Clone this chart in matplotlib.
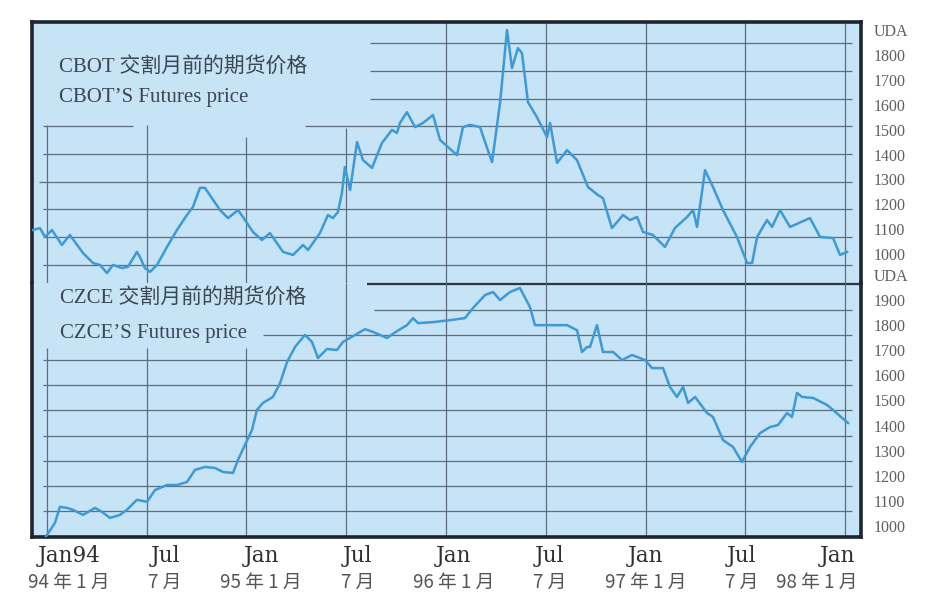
import matplotlib.pyplot as plt
from matplotlib.transforms import ScaledTranslation

# months counted from Jan 1994 (0 = Jan94, 48 = Jan98)
cbot_month = [-0.84, -0.42, -0.12, 0.30, 0.90, 1.38, 2.17, 2.77, 3.19, 3.61,
              3.97, 4.51, 4.87, 5.41, 5.59, 5.89, 6.20, 6.62, 7.22, 7.82,
              8.42, 8.78, 9.20, 9.50, 9.92, 10.41, 10.89, 11.49, 11.79, 12.39,
              12.93, 13.41, 13.83, 14.20, 14.80, 15.40, 15.70, 16.42, 16.90, 17.20,
              17.50, 17.74, 17.92, 18.23, 18.65, 19.01, 19.55, 20.15, 20.75, 21.05,
              21.23, 21.65, 22.14, 22.62, 23.22, 23.64, 24.12, 24.66, 25.02, 25.44,
              26.05, 26.35, 26.77, 27.25, 27.67, 27.97, 28.33, 28.57, 28.93, 29.47,
              30.08, 30.26, 30.68, 31.28, 31.88, 32.54, 33.14, 33.44, 33.98, 34.65,
              35.07, 35.49, 35.85, 36.45, 37.17, 37.77, 38.50, 38.86, 39.10, 39.58,
              40.06, 40.66, 41.50, 42.11, 42.41, 42.71, 43.31, 43.61, 44.09, 44.69,
              45.89, 46.50, 47.28, 47.70, 48.12]
cbot_price = [1126, 1133, 1101, 1126, 1072, 1108, 1043, 1007, 1000, 971,
              1000, 989, 993, 1047, 1029, 989, 975, 1000, 1065, 1126,
              1180, 1209, 1278, 1278, 1241, 1198, 1169, 1198, 1173, 1119,
              1090, 1115, 1079, 1047, 1036, 1072, 1054, 1115, 1180, 1169,
              1191, 1259, 1353, 1270, 1443, 1378, 1350, 1440, 1487, 1476,
              1512, 1551, 1497, 1512, 1541, 1451, 1425, 1396, 1497, 1505,
              1497, 1443, 1371, 1584, 1847, 1710, 1782, 1764, 1587, 1533,
              1461, 1512, 1368, 1414, 1378, 1281, 1252, 1241, 1133, 1180,
              1162, 1173, 1119, 1108, 1065, 1133, 1173, 1198, 1137, 1342,
              1281, 1198, 1101, 1007, 1007, 1101, 1162, 1137, 1198, 1137,
              1169, 1101, 1097, 1036, 1047]

czce_month = [-0.12, 0.48, 0.78, 1.20, 1.56, 2.17, 2.89, 3.31, 3.79, 4.39,
              4.81, 5.41, 6.02, 6.50, 7.22, 7.82, 8.42, 8.90, 9.50, 10.11,
              10.59, 11.19, 11.49, 11.91, 12.33, 12.63, 12.99, 13.59, 14.02, 14.44,
              14.92, 15.52, 15.94, 16.30, 16.84, 17.44, 17.80, 18.53, 19.13, 19.61,
              20.45, 21.05, 21.65, 22.02, 22.32, 23.22, 24.24, 25.14, 25.62, 26.35,
              26.83, 27.25, 27.85, 28.45, 29.05, 29.35, 30.08, 31.28, 31.88, 32.18,
              32.48, 32.66, 33.08, 33.44, 34.05, 34.59, 35.19, 35.97, 36.39, 37.05,
              37.47, 37.89, 38.26, 38.56, 38.98, 39.70, 40.06, 40.66, 41.26, 41.80,
              42.29, 42.89, 43.49, 43.97, 44.51, 44.81, 45.11, 45.41, 46.08, 46.92,
              47.28, 48.18]
czce_price = [952, 1012, 1076, 1072, 1064, 1044, 1072, 1056, 1032, 1044,
              1064, 1104, 1096, 1143, 1163, 1163, 1175, 1223, 1235, 1231,
              1215, 1211, 1263, 1323, 1382, 1462, 1490, 1514, 1569, 1653,
              1713, 1761, 1733, 1669, 1705, 1701, 1733, 1761, 1784, 1773,
              1749, 1776, 1800, 1828, 1808, 1812, 1820, 1828, 1868, 1920,
              1932, 1900, 1932, 1948, 1872, 1800, 1800, 1800, 1780, 1693,
              1713, 1713, 1800, 1693, 1693, 1661, 1681, 1661, 1629, 1629,
              1554, 1514, 1554, 1490, 1514, 1450, 1434, 1342, 1315, 1255,
              1315, 1370, 1394, 1402, 1450, 1434, 1530, 1514, 1510, 1482,
              1462, 1410]

tick_months = [0, 6, 12, 18, 24, 30, 36, 42, 48]
tick_en = ['Jan94', 'Jul', 'Jan', 'Jul', 'Jan', 'Jul', 'Jan', 'Jul', 'Jan']
tick_cn = ['94 年 1 月', '7 月', '95 年 1 月', '7 月', '96 年 1 月', '7 月',
           '97 年 1 月', '7 月', '98 年 1 月']

cbot_ticks = [1000, 1100, 1200, 1300, 1400, 1500, 1600, 1700, 1800]
czce_ticks = [1000, 1100, 1200, 1300, 1400, 1500, 1600, 1700, 1800, 1900]

# grid lines leave the title corner of each panel empty
top_grid = [1000, 1100, 1200, 1300, 1400, 1500, 1600, 1700, 1800]
top_grid_from = [-0.25, -0.25, -0.25, -0.5, -0.25, 15.5, 19.4, 19.4, 19.4]
top_vgrid_top = [1505, 1505, 1461, 1494, None, None, None, None, None]
bot_grid = [1060, 1160, 1260, 1360, 1460, 1560, 1660, 1760, 1860]
bot_grid_from = [-0.25, -0.25, -0.25, -0.25, -0.25, -0.25, -0.25, 13.0, 19.7]
bot_vgrid_top = [1709, 1709, 1709, None, None, None, None, None, None]

bg = '#c7e3f6'
line_c = '#3d9ad6'
grid_c = '#5d6f7e'
frame_c = '#1c2530'
txt_c = '#3a4650'

plt.rcParams['font.family'] = ['Liberation Serif', 'Noto Sans CJK SC']

fig = plt.figure(figsize=(9.27, 6.03), dpi=100)
ax_top = fig.add_axes([0.0345, 0.5307, 0.8943, 0.4328])
ax_bot = fig.add_axes([0.0345, 0.1095, 0.8943, 0.4212])
ax_top.set_ylim(935, 1876)
ax_bot.set_ylim(956, 1968)

for ax in (ax_top, ax_bot):
    ax.set_facecolor(bg)
    ax.set_xlim(-0.9, 48.96)
    ax.set_xticks([])
    for s in ax.spines.values():
        s.set_color(frame_c)
        s.set_linewidth(2.6)
ax_top.spines['bottom'].set_visible(False)
ax_bot.spines['top'].set_visible(False)
ax_top.set_yticks([])

# grid
for y, x0 in zip(top_grid, top_grid_from):
    ax_top.hlines(y, x0, 48.4, colors=grid_c, lw=0.9, zorder=1)
ax_top.hlines(1500, -0.25, 5.2, colors=grid_c, lw=0.9, zorder=1)
for m, y1 in zip(tick_months, top_vgrid_top):
    ax_top.vlines(m, 935, y1 if y1 else 1876, colors=grid_c, lw=0.9, zorder=1)
for y, x0 in zip(bot_grid, bot_grid_from):
    ax_bot.hlines(y, x0, 48.4, colors=grid_c, lw=0.9, zorder=1)
ax_bot.hlines(1965, 19.25, 48.96, colors='#2b3540', lw=1.6, zorder=1, clip_on=False)
for m, y1 in zip(tick_months, bot_vgrid_top):
    ax_bot.vlines(m, 956, y1 if y1 else 1968, colors=grid_c, lw=0.9, zorder=1)

ax_top.plot(cbot_month, cbot_price, color=line_c, lw=1.8, zorder=3)
ax_bot.plot(czce_month, czce_price, color=line_c, lw=1.8, zorder=3)

# panel titles
ax_top.text(0.032, 0.828, 'CBOT 交割月前的期货价格', transform=ax_top.transAxes,
            fontsize=15, color=txt_c, va='center')
ax_top.text(0.032, 0.709, 'CBOT’S Futures price', transform=ax_top.transAxes,
            fontsize=15, color=txt_c, va='center')
ax_bot.text(0.034, 0.941, 'CZCE 交割月前的期货价格', transform=ax_bot.transAxes,
            fontsize=15, color=txt_c, va='center')
ax_bot.text(0.034, 0.803, 'CZCE’S Futures price', transform=ax_bot.transAxes,
            fontsize=15, color=txt_c, va='center')

# right hand price labels
ax_lab = ax_top.twinx()
ax_lab.set_ylim(883.4, 1932.7)
ax_lab.set_yticks(cbot_ticks + [1900], [str(t) for t in cbot_ticks] + ['UDA'])
ax_lab.tick_params(axis='y', length=0, pad=9, labelsize=11.5, labelcolor='#5e5e5e')
for s in ax_lab.spines.values():
    s.set_visible(False)

ax_bot.yaxis.tick_right()
ax_bot.set_yticks(czce_ticks, [str(t) for t in czce_ticks])
ax_bot.tick_params(axis='y', length=0, pad=9, labelsize=11.5, labelcolor='#5e5e5e')
ax_bot.text(1.0157, 1991, 'UDA', transform=ax_bot.get_yaxis_transform(),
            fontsize=11.5, color='#5e5e5e', va='center', ha='left', clip_on=False)

# date labels, english line and chinese line
for labels, size, pad, fam, col in [(tick_en, 15.5, 6, 'DejaVu Serif', '#2e2e2e'),
                                    (tick_cn, 13.5, 25, 'Noto Sans CJK SC', '#555555')]:
    axl = ax_bot.twiny()
    axl.set_xlim(-2.31, 49.45)
    axl.xaxis.tick_bottom()
    axl.set_xticks(tick_months, labels)
    axl.tick_params(axis='x', length=0, pad=pad, labelsize=size, labelcolor=col)
    for lab in axl.get_xticklabels():
        lab.set_fontfamily(fam)
    for s in axl.spines.values():
        s.set_visible(False)
    if fam != 'DejaVu Serif':
        last = axl.get_xticklabels()[-1]
        last.set_ha('right')
        last.set_transform(last.get_transform() + ScaledTranslation(0.2, 0, fig.dpi_scale_trans))

fig.savefig('out.png', dpi=100, facecolor='white')
